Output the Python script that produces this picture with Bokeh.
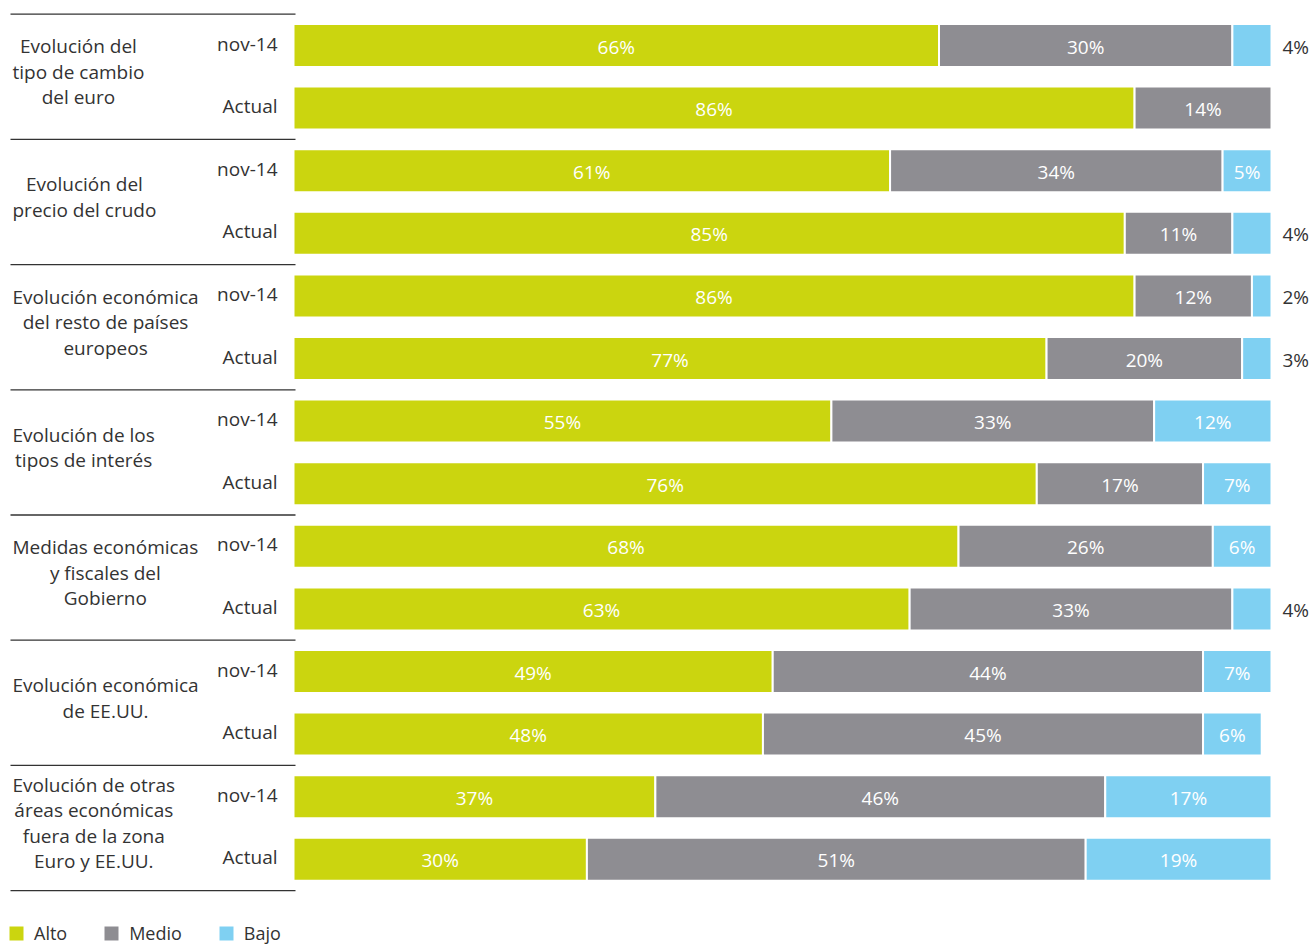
import numpy as np
from bokeh.plotting import figure
from bokeh.models import Range1d, Legend, LegendItem, ColumnDataSource
from bokeh.core.properties import value
from bokeh.embed import file_html
from bokeh.resources import INLINE

categories = [
    "Evolución del\ntipo de cambio\ndel euro",
    "Evolución del\nprecio del crudo",
    "Evolución económica\ndel resto de países\neuropeos",
    "Evolución de los\ntipos de interés",
    "Medidas económicas\ny fiscales del\nGobierno",
    "Evolución económica\nde EE.UU.",
    "Evolución de otras\náreas económicas\nfuera de la zona\nEuro y EE.UU.",
]
periods = ["nov-14", "Actual"]

alto = [66, 86, 61, 85, 86, 77, 55, 76, 68, 63, 49, 48, 37, 30]
medio = [30, 14, 34, 11, 12, 20, 33, 17, 26, 33, 44, 45, 46, 51]
bajo = [4, 0, 5, 4, 2, 3, 12, 7, 6, 4, 7, 6, 17, 19]

series_names = ["Alto", "Medio", "Bajo"]
colors = ["#CBD50F", "#8E8D92", "#7FD0F2"]

FONT = "Open Sans"
W, H = 1314, 945
PX = 9.78          # pixels per percent
X0 = 293           # pixel of 0%
ROW = 62.6         # pixels per row
Y0 = 45            # pixel of first row center

p = figure(width=W, height=H, output_backend="svg", toolbar_location=None,
           min_border=0, outline_line_color=None,
           x_range=Range1d(-X0 / PX, (W - X0) / PX),
           y_range=Range1d((H - Y0) / ROW, -Y0 / ROW))
p.axis.visible = False
p.grid.visible = False
p.background_fill_color = "white"
p.border_fill_color = "white"

n = len(alto)
rows = np.arange(n)
vals = np.array([alto, medio, bajo], dtype=float)
lefts = np.vstack([np.zeros(n), np.cumsum(vals, axis=0)[:-1]])
rights = np.cumsum(vals, axis=0)
bar_h = 43 / ROW

renderers = []
for k in range(3):
    mask = vals[k] > 0
    src = ColumnDataSource(dict(y=rows[mask], left=lefts[k][mask], right=rights[k][mask]))
    r = p.hbar(y="y", left="left", right="right", height=bar_h, source=src,
               fill_color=colors[k], line_color="white", line_width=2)
    renderers.append(r)

# value labels
in_x, in_y, in_t = [], [], []
out_x, out_y, out_t = [], [], []
for k in range(3):
    for i in range(n):
        v = vals[k][i]
        if v <= 0:
            continue
        if v >= 5:
            in_x.append((lefts[k][i] + rights[k][i]) / 2)
            in_y.append(rows[i])
            in_t.append(f"{int(v)}%")
        else:
            out_x.append(rights[:, i].max() + 11 / PX)
            out_y.append(rows[i])
            out_t.append(f"{int(v)}%")

p.text(x=in_x, y=in_y, text=in_t, text_align="center", text_baseline="middle",
       text_color="white", text_font=value(FONT), text_font_size="19px", y_offset=1)
p.text(x=out_x, y=out_y, text=out_t, text_align="left", text_baseline="middle",
       text_color="#333333", text_font=value(FONT), text_font_size="19px", y_offset=1)

# period labels
per_t = [periods[i % 2] for i in range(n)]
p.text(x=[-16 / PX] * n, y=list(rows), text=per_t, text_align="right", text_baseline="middle",
       text_color="#333333", text_font=value(FONT), text_font_size="19px", y_offset=-2)

# category labels
g = np.arange(len(categories))
p.text(x=[(12 - X0) / PX] * len(categories), y=list(2 * g + 0.5), text=categories,
       anchor="center_left", text_align="center", text_baseline="middle",
       text_color="#333333", text_font=value(FONT), text_font_size="19px",
       text_line_height=0.98, y_offset=-5)

# separators
sep_y = list(2 * np.arange(len(categories) + 1) - 0.5)
p.segment(x0=[(10 - X0) / PX] * len(sep_y), x1=[(295 - X0) / PX] * len(sep_y),
          y0=sep_y, y1=sep_y, line_color="#333333", line_width=1.3)

legend = Legend(items=[LegendItem(label=series_names[k], renderers=[renderers[k]]) for k in range(3)],
                orientation="horizontal", location=(6, 0),
                glyph_width=20, glyph_height=20, label_standoff=8, spacing=34,
                label_height=18,
                padding=0, margin=0, border_line_color=None, background_fill_alpha=0,
                label_text_font=FONT, label_text_font_size="18px", label_text_color="#333333")
p.add_layout(legend, "center")

open("out.html", "w").write(file_html(p, INLINE))
